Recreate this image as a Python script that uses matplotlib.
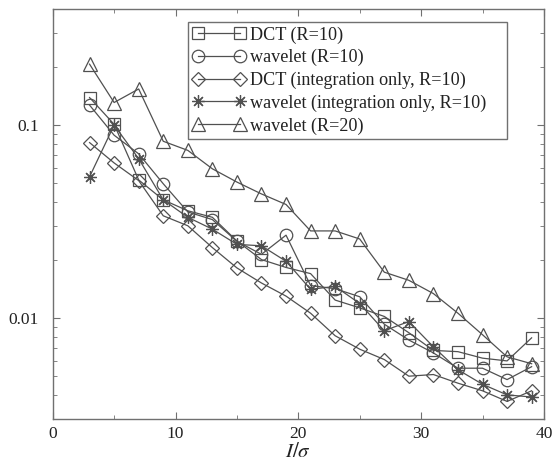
import matplotlib
matplotlib.use("Agg")
import matplotlib.pyplot as plt
from matplotlib.ticker import FixedLocator, FixedFormatter, LogLocator, NullFormatter, MultipleLocator

plt.rcParams['font.family'] = ['Liberation Serif', 'DejaVu Serif']
plt.rcParams['mathtext.fontset'] = 'stix'

x = [3, 5, 7, 9, 11, 13, 15, 17, 19, 21, 23, 25, 27, 29, 31, 33, 35, 37, 39]

dct_r10 = [0.139, 0.101, 0.052, 0.041, 0.036, 0.0333, 0.0251, 0.0201, 0.0183, 0.0170,
           0.0124, 0.0113, 0.0102, 0.0084, 0.0068, 0.0067, 0.0062, 0.0060, 0.0079]
wav_r10 = [0.127, 0.0887, 0.071, 0.0497, 0.0355, 0.0324, 0.0250, 0.0214, 0.0269, 0.01475,
           0.0142, 0.0129, 0.0093, 0.0077, 0.0066, 0.0055, 0.0055, 0.0048, 0.0056]
dct_int = [0.0812, 0.0637, 0.0516, 0.0339, 0.0301, 0.0232, 0.0182, 0.0152, 0.0130, 0.0106,
           0.0081, 0.0069, 0.0061, 0.0050, 0.0051, 0.0046, 0.0042, 0.0037, 0.0042]
wav_int = [0.054, 0.100, 0.067, 0.041, 0.0333, 0.0289, 0.0241, 0.0237, 0.0197, 0.0141,
           0.0146, 0.0119, 0.0086, 0.0096, 0.0071, 0.0054, 0.00454, 0.0040, 0.0039]
wav_r20 = [0.207, 0.131, 0.154, 0.0825, 0.074, 0.0594, 0.0507, 0.044, 0.0388, 0.0283,
           0.0283, 0.0257, 0.0173, 0.0157, 0.0134, 0.0106, 0.0082, 0.0063, 0.0058]

labels = ['DCT (R=10)', 'wavelet (R=10)', 'DCT (integration only, R=10)',
          'wavelet (integration only, R=10)', 'wavelet (R=20)']

fig = plt.figure(figsize=(5.55, 4.67), dpi=100)
ax = fig.add_axes([0.095, 0.1028, 0.885, 0.878])

lc = '#505050'
common = dict(color=lc, linewidth=0.9, markerfacecolor='none', markeredgecolor=lc,
              markeredgewidth=0.9)
ax.plot(x, dct_r10, marker='s', markersize=8.5, label=labels[0], **common)
ax.plot(x, wav_r10, marker='o', markersize=9, label=labels[1], **common)
ax.plot(x, dct_int, marker='D', markersize=6.8, label=labels[2], **common)
ax.plot(x, wav_int, marker=(8, 2, 0), markersize=9, label=labels[3], **common)
ax.plot(x, wav_r20, marker='^', markersize=9.5, label=labels[4], **common)

ax.set_yscale('log')
ax.set_xlim(0, 40)
ax.set_ylim(0.003, 0.4)

ax.xaxis.set_major_locator(MultipleLocator(10))
ax.xaxis.set_minor_locator(MultipleLocator(5))
ax.yaxis.set_major_locator(FixedLocator([0.01, 0.1]))
ax.yaxis.set_major_formatter(FixedFormatter(['0.01', '0.1']))
ax.yaxis.set_minor_locator(LogLocator(base=10, subs=range(2, 10)))
ax.yaxis.set_minor_formatter(NullFormatter())

for s in ax.spines.values():
    s.set_color('#707070')
    s.set_linewidth(1.0)
ax.tick_params(which='both', direction='in', top=True, right=True, color='#707070',
               labelsize=12.5, labelcolor='#222222')
ax.tick_params(which='major', length=5)
ax.tick_params(which='minor', length=3)
ax.tick_params(axis='x', which='major', pad=5)
ax.tick_params(axis='y', which='major', pad=10)

ax.set_xlabel(r'$I/\sigma$', fontsize=15, color='#222222', labelpad=1)

leg = ax.legend(loc='upper left', bbox_to_anchor=(0.2754, 0.969, 0.6493, 0.0),
                mode='expand', borderaxespad=0,
                fontsize=13.1, numpoints=2, handlelength=2.93, fancybox=False,
                framealpha=1, edgecolor='#707070', labelspacing=0.3,
                borderpad=0.25, handletextpad=0.25)
leg.get_frame().set_linewidth(1.0)
for t in leg.get_texts():
    t.set_color('#222222')

fig.savefig('out.png', dpi=100)
